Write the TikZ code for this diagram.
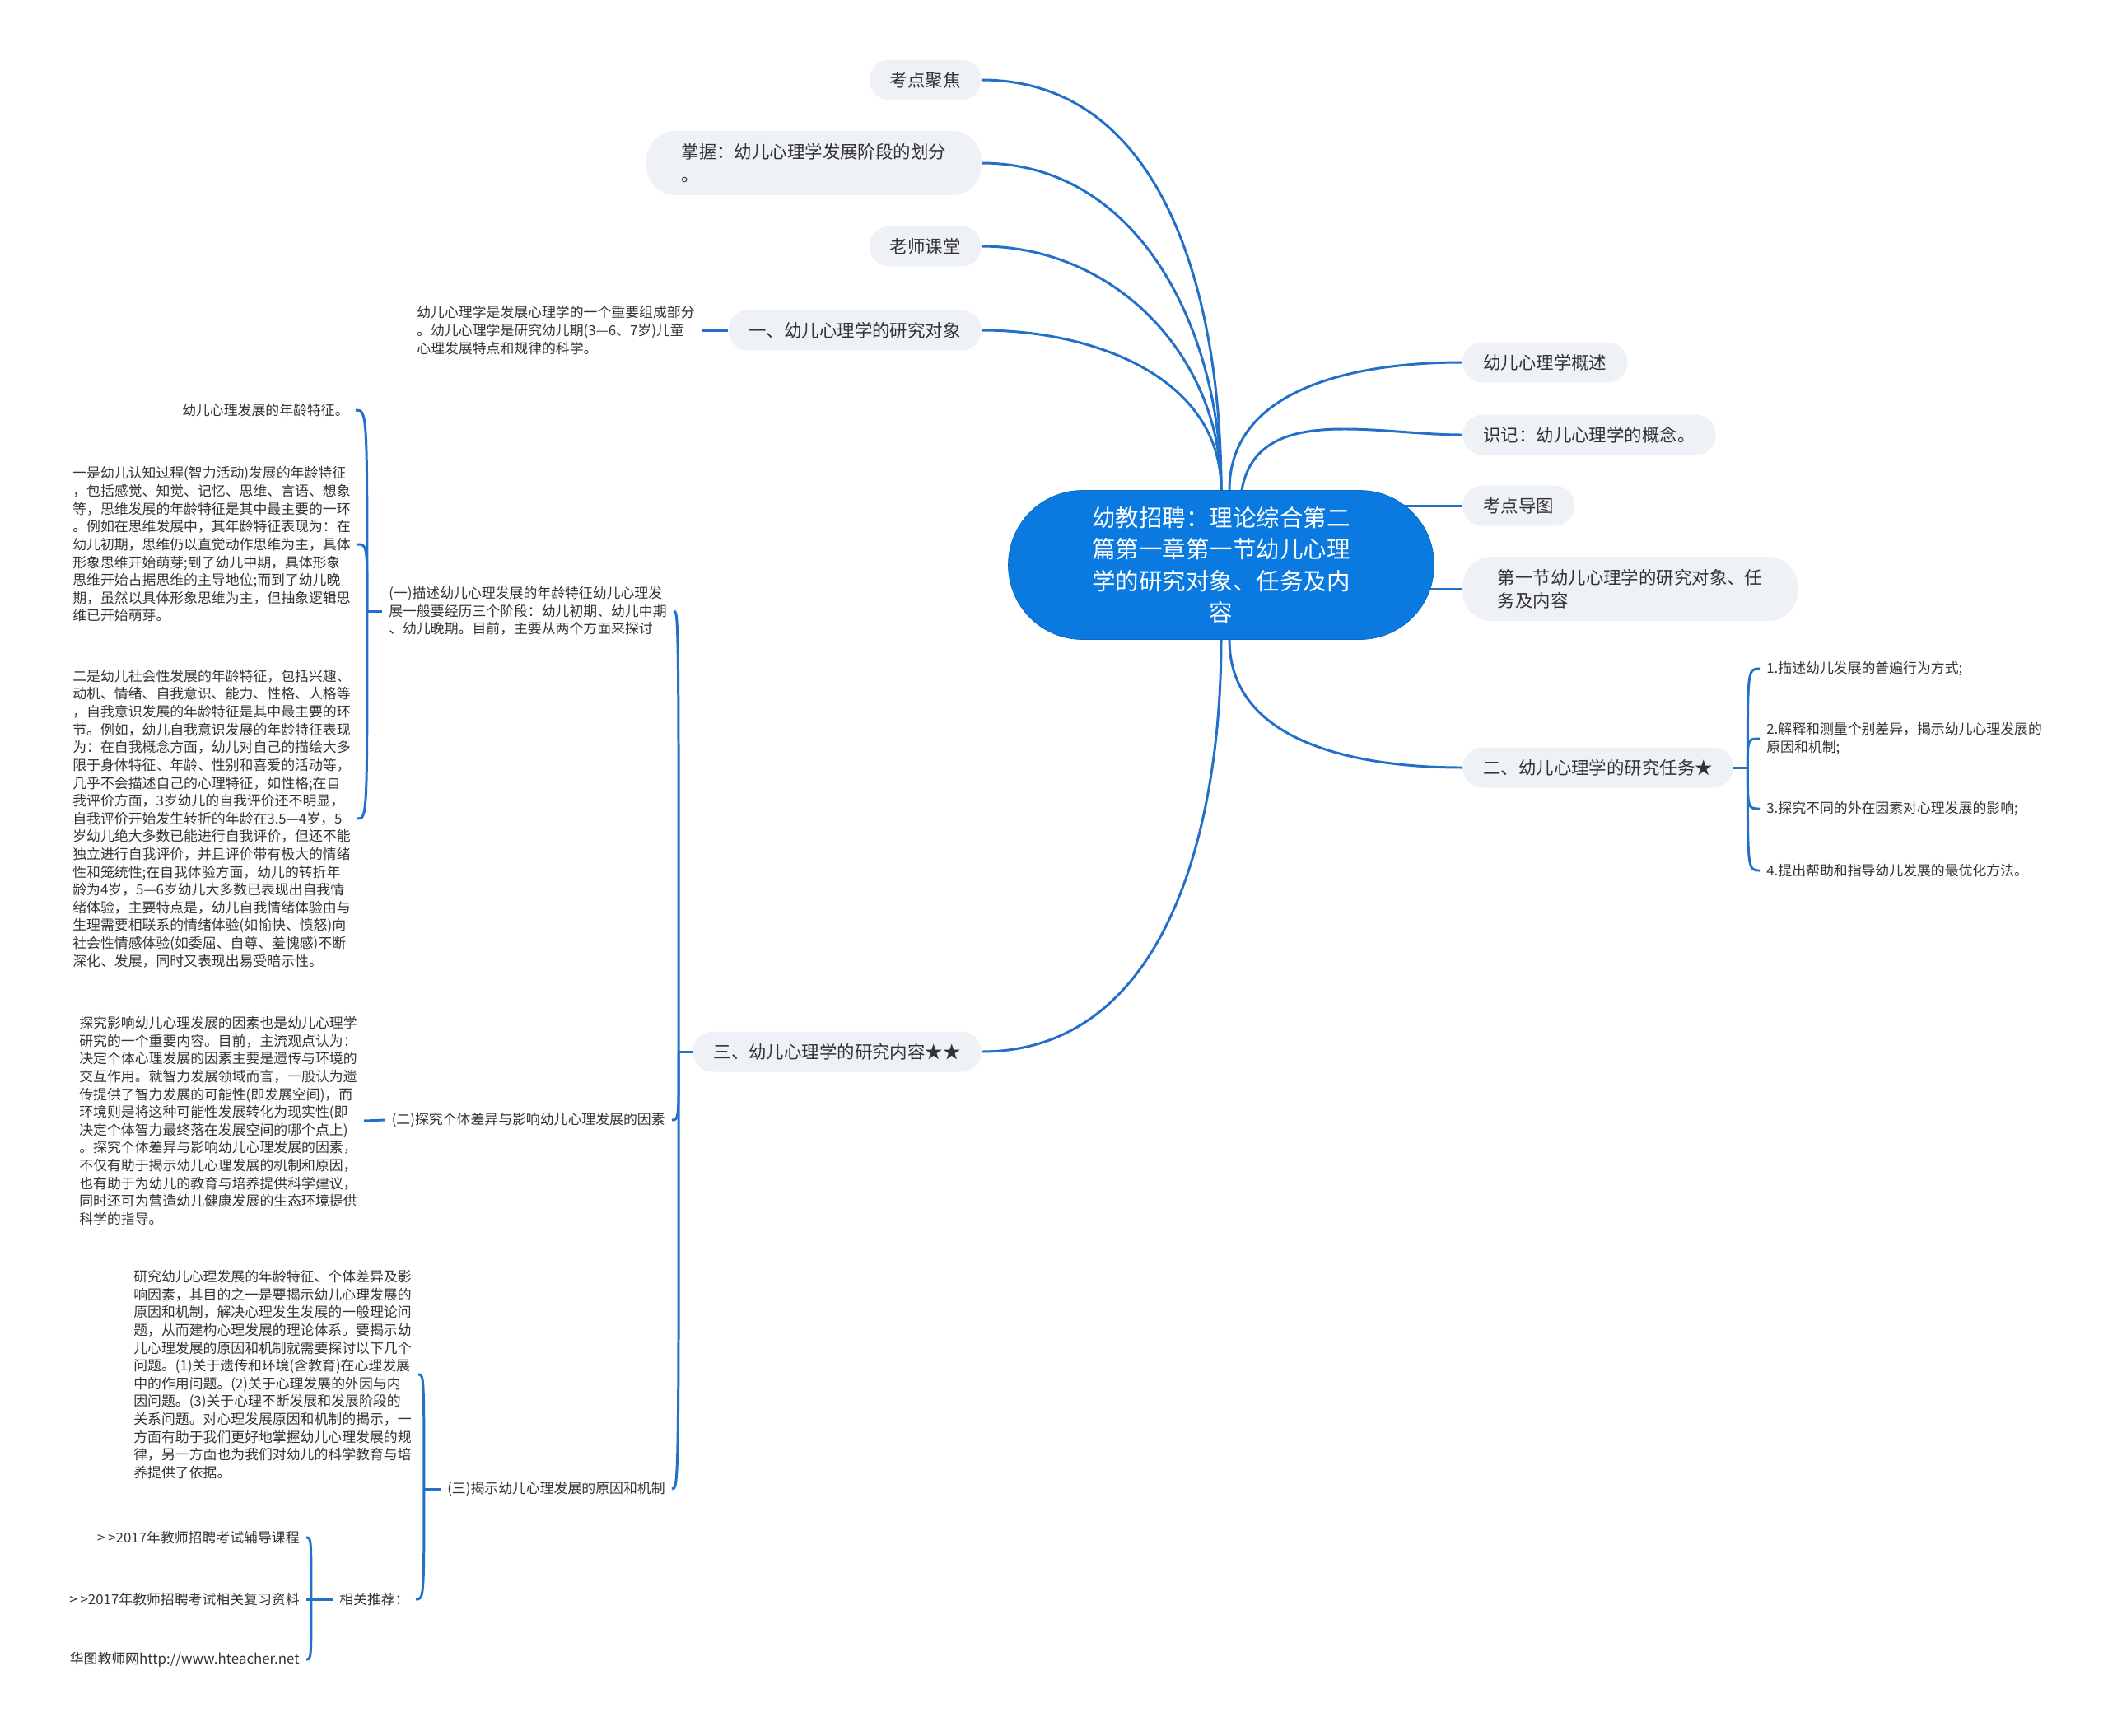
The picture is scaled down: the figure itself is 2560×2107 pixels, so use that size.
\documentclass[tikz,border=0pt]{standalone}
\usepackage{fontspec}
\setmainfont{Noto Sans CJK SC}
\usepackage{xcolor}
\usepackage{tikz}
\usetikzlibrary{backgrounds}
\definecolor{bleu}{HTML}{0A7AE0}
\definecolor{trait}{HTML}{2370C8}
\definecolor{gris}{HTML}{EEF1F5}
\definecolor{texte}{HTML}{333333}

\tikzset{
  racine/.style={fill=bleu, draw=bleu!85!black, text=white, rounded corners=1.8cm,
    minimum width=10.34cm, minimum height=3.62cm, align=center,
    font=\fontsize{16.2}{21.9}\selectfont},
  bulle/.style={fill=gris, text=texte, rounded corners=0.48cm, minimum height=0.98cm,
    inner xsep=0.5cm, font=\fontsize{12.2}{16}\selectfont},
  bulle2/.style={bulle, rounded corners=0.7cm, minimum height=1.56cm,
    inner xsep=0.85cm, align=left},
  feuille/.style={text=texte, inner xsep=0.16cm, inner ysep=0.04cm, align=left,
    font=\fontsize{9.6}{12.3}\selectfont},
  lien/.style={draw=trait, line width=1.7pt}
}

\begin{document}
\begin{tikzpicture}[x=0.02cm, y=-0.02cm]
        \useasboundingbox (0,0) rectangle (2560,2107);

        % Noeud central
        \node[racine] (root) at (1483,686) {幼教招聘：理论综合第二\\篇第一章第一节幼儿心理\\学的研究对象、任务及内\\容};

        % Branches de gauche
        \foreach \y/\nom/\txt in {97/kdjj/{考点聚焦}, 299/lsk/{老师课堂}, 401/yi/{一、幼儿心理学的研究对象}, 1277/san/{三、幼儿心理学的研究内容★★}}
            \node[bulle, anchor=east] (\nom) at (1192,\y) {\txt};
        \node[bulle2, anchor=east] (zw) at (1192,198) {掌握：幼儿心理学发展阶段的划分\\。};

        % Branches de droite
        \foreach \y/\nom/\txt in {440/gs/{幼儿心理学概述}, 528/sj/{识记：幼儿心理学的概念。}, 614/kddt/{考点导图}, 932/er/{二、幼儿心理学的研究任务★}}
            \node[bulle, anchor=west] (\nom) at (1776,\y) {\txt};
        \node[bulle2, anchor=west] (dyj) at (1776,715) {第一节幼儿心理学的研究对象、任\\务及内容};

        % Les quatre tâches
        \foreach \y/\nom/\txt in {812/tache1/{1.描述幼儿发展的普遍行为方式;}, 982/tache3/{3.探究不同的外在因素对心理发展的影响;}, 1057/tache4/{4.提出帮助和指导幼儿发展的最优化方法。}}
            \node[feuille, anchor=west] (\nom) at (2137,\y) {\txt};
        \node[feuille, anchor=west] (tache2) at (2137,897) {2.解释和测量个别差异，揭示幼儿心理发展的\\原因和机制;};

        % Branche un
        \node[feuille, anchor=east] (yi1) at (852,401) {幼儿心理学是发展心理学的一个重要组成部分\\。幼儿心理学是研究幼儿期(3—6、7岁)儿童\\心理发展特点和规律的科学。};

        % Branche trois
        \node[feuille, anchor=east] (su) at (818,742) {(一)描述幼儿心理发展的年龄特征幼儿心理发\\展一般要经历三个阶段：幼儿初期、幼儿中期\\、幼儿晚期。目前，主要从两个方面来探讨};
        \node[feuille, anchor=east] (sd) at (816,1360) {(二)探究个体差异与影响幼儿心理发展的因素};
        \node[feuille, anchor=east] (st) at (816,1808) {(三)揭示幼儿心理发展的原因和机制};

        % Feuilles de (一)
        \node[feuille, anchor=east] (ua) at (432,498) {幼儿心理发展的年龄特征。};
        \node[feuille, anchor=east] (ub) at (434,661) {一是幼儿认知过程(智力活动)发展的年龄特征\\，包括感觉、知觉、记忆、思维、言语、想象\\等，思维发展的年龄特征是其中最主要的一环\\。例如在思维发展中，其年龄特征表现为：在\\幼儿初期，思维仍以直觉动作思维为主，具体\\形象思维开始萌芽;到了幼儿中期，具体形象\\思维开始占据思维的主导地位;而到了幼儿晚\\期，虽然以具体形象思维为主，但抽象逻辑思\\维已开始萌芽。};
        \node[feuille, anchor=east] (uc) at (434,994) {二是幼儿社会性发展的年龄特征，包括兴趣、\\动机、情绪、自我意识、能力、性格、人格等\\，自我意识发展的年龄特征是其中最主要的环\\节。例如，幼儿自我意识发展的年龄特征表现\\为：在自我概念方面，幼儿对自己的描绘大多\\限于身体特征、年龄、性别和喜爱的活动等，\\几乎不会描述自己的心理特征，如性格;在自\\我评价方面，3岁幼儿的自我评价还不明显，\\自我评价开始发生转折的年龄在3.5—4岁，5\\岁幼儿绝大多数已能进行自我评价，但还不能\\独立进行自我评价，并且评价带有极大的情绪\\性和笼统性;在自我体验方面，幼儿的转折年\\龄为4岁，5—6岁幼儿大多数已表现出自我情\\绪体验，主要特点是，幼儿自我情绪体验由与\\生理需要相联系的情绪体验(如愉快、愤怒)向\\社会性情感体验(如委屈、自尊、羞愧感)不断\\深化、发展，同时又表现出易受暗示性。};

        % Feuille de (二)
        \node[feuille, anchor=east] (da) at (442,1361) {探究影响幼儿心理发展的因素也是幼儿心理学\\研究的一个重要内容。目前，主流观点认为：\\决定个体心理发展的因素主要是遗传与环境的\\交互作用。就智力发展领域而言，一般认为遗\\传提供了智力发展的可能性(即发展空间)，而\\环境则是将这种可能性发展转化为现实性(即\\决定个体智力最终落在发展空间的哪个点上)\\。探究个体差异与影响幼儿心理发展的因素，\\不仅有助于揭示幼儿心理发展的机制和原因，\\也有助于为幼儿的教育与培养提供科学建议，\\同时还可为营造幼儿健康发展的生态环境提供\\科学的指导。};

        % Feuilles de (三)
        \node[feuille, anchor=east] (ca) at (508,1669) {研究幼儿心理发展的年龄特征、个体差异及影\\响因素，其目的之一是要揭示幼儿心理发展的\\原因和机制，解决心理发生发展的一般理论问\\题，从而建构心理发展的理论体系。要揭示幼\\儿心理发展的原因和机制就需要探讨以下几个\\问题。(1)关于遗传和环境(含教育)在心理发展\\中的作用问题。(2)关于心理发展的外因与内\\因问题。(3)关于心理不断发展和发展阶段的\\关系问题。对心理发展原因和机制的揭示，一\\方面有助于我们更好地掌握幼儿心理发展的规\\律，另一方面也为我们对幼儿的科学教育与培\\养提供了依据。};
        \node[feuille, anchor=east] (reco) at (505,1942) {相关推荐：};

        % Recommandations
        \foreach \y/\nom/\txt in {1867/r1/{> >2017年教师招聘考试辅导课程}, 1942/r2/{> >2017年教师招聘考试相关复习资料}, 2015/r3/{华图教师网http://www.hteacher.net}}
            \node[feuille, anchor=east] (\nom) at (372,\y) {\txt};

        % Liens
        \begin{scope}[on background layer]
            \foreach \nom in {kdjj,zw,lsk,yi}
                \draw[lien] (\nom.east) to[out=0,in=90] (root.north);
            \draw[lien] ([xshift=0.2cm]root.north) to[out=90,in=180] (gs.west);
            \draw[lien] ([xshift=0.5cm]root.north) to[out=80,in=180] (sj.west);
            \draw[lien] (root.center |- kddt.west) -- (kddt.west);
            \draw[lien] (root.center |- dyj.west) -- (dyj.west);
            \draw[lien] ([xshift=0.2cm]root.south) to[out=270,in=180] (er.west);
            \draw[lien] (root.south) to[out=270,in=0] (san.east);

            \draw[lien] (yi.west) -- (yi1.east);

            \draw[lien] (san.west) -- ++(-17,0) coordinate (sanS);
            \foreach \n in {su,sd,st}
                \draw[lien] (sanS) .. controls (sanS |- \n.east) .. (\n.east);

            \draw[lien] (su.west) -- ++(-18,0) coordinate (suS);
            \foreach \n in {ua,ub,uc}
                \draw[lien] (suS) .. controls (suS |- \n.east) .. (\n.east);

            \draw[lien] (sd.west) -- (da.east);

            \draw[lien] (st.west) -- ++(-20,0) coordinate (stS);
            \foreach \n in {ca,reco}
                \draw[lien] (stS) .. controls (stS |- \n.east) .. (\n.east);

            \draw[lien] (reco.west) -- ++(-26,0) coordinate (recoS);
            \foreach \n in {r1,r2,r3}
                \draw[lien] (recoS) .. controls (recoS |- \n.east) .. (\n.east);

            \draw[lien] (er.east) -- ++(17,0) coordinate (erS);
            \foreach \n in {tache1,tache2,tache3,tache4}
                \draw[lien] (erS) .. controls (erS |- \n.west) .. (\n.west);
        \end{scope}
\end{tikzpicture}
\end{document}
